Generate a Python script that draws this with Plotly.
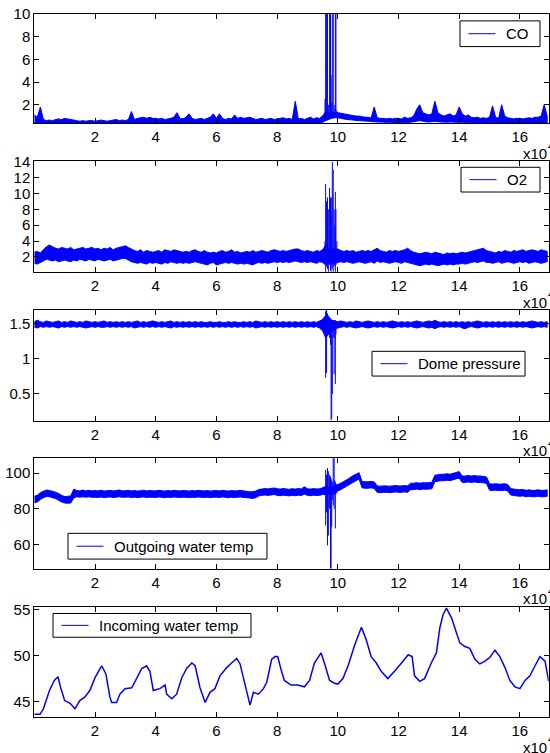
import plotly.graph_objects as go

# ---------------- data ----------------
T = list(range(0, 170000, 1000))          # sample positions of the envelope readings

co_lo = [0.40,0.38,0.37,0.38,0.37,0.38,0.38,0.37,0.38,0.38,
         0.38,0.37,0.38,0.38,0.37,0.36,0.37,0.38,0.37,0.37,
         0.37,0.38,0.37,0.36,0.37,0.38,0.37,0.38,0.37,0.38,
         0.38,0.38,0.39,0.38,0.39,0.40,0.39,0.38,0.39,0.40,
         0.39,0.38,0.39,0.40,0.39,0.38,0.39,0.40,0.39,0.38,
         0.39,0.40,0.39,0.38,0.39,0.38,0.39,0.38,0.39,0.40,
         0.39,0.40,0.39,0.38,0.39,0.38,0.39,0.40,0.39,0.38,
         0.39,0.38,0.39,0.38,0.39,0.38,0.38,0.39,0.38,0.39,
         0.38,0.39,0.38,0.39,0.38,0.38,0.40,0.39,0.38,0.39,
         0.38,0.39,0.40,0.39,0.40,0.45,0.60,0.70,0.80,0.85,
         0.85,0.80,0.75,0.70,0.68,0.65,0.62,0.60,0.58,0.56,
         0.55,0.52,0.50,0.48,0.47,0.46,0.45,0.45,0.44,0.43,
         0.42,0.42,0.43,0.44,0.45,0.50,0.55,0.60,0.55,0.50,
         0.48,0.50,0.52,0.50,0.48,0.47,0.46,0.48,0.47,0.45,
         0.46,0.45,0.44,0.43,0.42,0.41,0.40,0.40,0.39,0.40,
         0.40,0.41,0.40,0.39,0.40,0.39,0.38,0.38,0.39,0.38,
         0.38,0.37,0.38,0.38,0.37,0.38,0.38,0.39,0.40,0.40]
co_hi = [1.1,0.9,1.8,0.7,0.6,0.65,0.6,0.7,0.75,0.7,
         0.8,0.75,0.7,0.65,0.6,0.55,0.6,0.55,0.6,0.6,
         0.55,0.6,0.65,0.6,0.55,0.6,0.65,0.7,0.6,0.65,
         0.6,0.7,1.4,0.7,0.8,0.85,0.9,0.8,0.9,0.8,
         0.8,0.75,0.8,0.7,0.75,0.8,0.9,1.3,0.8,0.75,
         0.9,1.2,0.8,0.7,0.75,0.8,0.7,0.8,0.9,1.2,
         0.8,1.2,0.8,0.7,0.8,0.75,1.1,0.8,0.9,0.8,
         0.85,0.9,0.8,0.7,0.75,0.8,0.7,0.75,0.8,0.7,
         0.75,0.8,0.85,0.75,0.8,0.7,2.3,0.75,0.8,0.7,
         0.8,0.9,0.75,0.85,0.8,1.0,1.4,1.3,1.3,1.3,
         1.3,1.25,1.2,1.15,1.1,1.05,1.0,1.0,0.95,0.9,
         0.9,0.85,1.8,0.85,0.8,0.8,0.75,0.8,0.75,0.8,
         0.8,0.75,0.9,0.8,0.85,1.0,1.6,2.0,1.3,1.2,
         1.1,1.2,2.3,1.3,1.1,1.0,1.1,1.2,1.0,1.1,
         1.8,1.2,1.0,1.1,0.9,0.85,0.9,0.8,0.85,0.8,
         0.9,1.9,0.9,0.8,2.0,1.0,0.85,0.8,0.75,0.8,
         0.8,0.75,0.8,0.85,0.8,0.9,0.9,1.0,2.0,1.0]

o2_lo = [1.2,1.1,1.3,1.5,1.7,1.6,1.5,1.6,1.4,1.5,
         1.6,1.5,1.4,1.6,1.5,1.7,1.6,1.5,1.7,1.6,
         1.5,1.7,1.6,1.5,1.6,1.7,1.5,1.6,1.7,1.8,
         1.8,1.6,1.4,1.3,1.2,1.3,1.2,1.1,1.3,1.2,
         1.3,1.2,1.1,1.3,1.2,1.4,1.3,1.2,1.3,1.2,
         1.3,1.2,1.3,1.4,1.3,1.2,1.1,1.0,1.2,1.3,
         1.0,1.1,1.2,1.3,1.2,1.3,1.2,1.1,1.2,1.1,
         1.2,1.1,1.0,1.2,1.3,1.2,1.3,1.2,1.3,1.4,
         1.3,1.4,1.3,1.4,1.3,1.4,1.5,1.4,1.3,1.4,
         1.3,1.4,1.3,1.2,1.4,1.3,1.0,1.2,1.3,1.2,
         1.3,1.4,1.3,1.4,1.3,1.2,1.3,1.4,1.3,1.2,
         1.3,1.4,1.2,1.5,1.3,1.4,1.3,1.2,1.3,1.4,
         1.3,1.2,1.4,1.3,1.2,1.1,1.0,0.9,1.0,1.1,
         1.0,1.1,1.0,0.9,1.0,1.1,1.0,1.1,1.0,1.1,
         1.1,1.2,1.1,1.2,1.3,1.4,1.3,1.4,1.5,1.3,
         1.3,1.2,1.3,1.4,1.2,1.3,1.4,1.3,1.2,1.3,
         1.4,1.3,1.4,1.2,1.3,1.4,1.3,1.2,1.3,1.4]
o2_hi = [2.6,2.7,2.5,2.9,3.3,3.5,3.3,3.1,3.0,3.2,
         3.1,3.0,3.2,2.9,3.0,3.1,3.2,3.0,3.1,3.2,
         3.0,3.1,2.9,3.1,3.0,3.2,2.9,3.1,3.2,3.3,
         3.4,3.2,3.0,2.8,2.7,2.9,2.6,2.8,2.7,2.6,
         2.7,2.8,2.6,2.9,2.8,2.7,2.9,2.8,2.7,2.6,
         2.7,2.6,2.8,2.9,2.7,2.6,2.8,2.6,2.5,2.6,
         2.5,2.7,2.8,2.6,2.7,2.9,2.6,2.7,2.5,2.6,
         2.7,2.6,2.8,2.6,2.7,2.8,2.7,2.6,2.8,2.9,
         2.8,2.7,2.8,2.7,2.8,2.9,3.0,3.0,2.8,2.7,
         2.8,2.7,2.6,2.8,2.7,2.9,3.5,3.0,3.0,3.0,
         3.0,2.8,2.7,2.8,2.7,2.8,2.6,2.7,2.8,2.7,
         2.8,2.7,2.9,3.1,2.8,2.7,2.6,2.8,2.7,2.8,
         2.7,2.8,2.9,3.1,2.8,2.6,2.5,2.4,2.5,2.6,
         2.5,2.4,2.6,2.5,2.4,2.3,2.5,2.4,2.5,2.4,
         2.5,2.6,2.5,2.6,2.7,2.8,2.9,3.0,3.1,2.8,
         2.7,2.6,2.5,2.7,2.6,2.8,2.7,2.6,2.8,2.7,
         2.8,2.9,2.7,2.8,2.9,2.8,2.7,2.9,2.8,2.7]

dome_lo = [1.45,1.44,1.46,1.45,1.46,1.45,1.46,1.45,1.44,1.46,
           1.45,1.46,1.45,1.46,1.45,1.46,1.45,1.44,1.45,1.46,
           1.45,1.46,1.45,1.45,1.46,1.45,1.46,1.45,1.46,1.45,
           1.46,1.45,1.46,1.44,1.45,1.46,1.45,1.46,1.45,1.46,
           1.45,1.46,1.45,1.46,1.45,1.44,1.46,1.45,1.46,1.45,
           1.46,1.45,1.46,1.45,1.46,1.45,1.46,1.45,1.46,1.45,
           1.46,1.45,1.46,1.45,1.46,1.45,1.46,1.45,1.46,1.45,
           1.46,1.45,1.46,1.44,1.45,1.46,1.45,1.46,1.45,1.46,
           1.45,1.46,1.45,1.46,1.45,1.46,1.45,1.46,1.45,1.46,
           1.45,1.46,1.45,1.46,1.44,1.40,1.30,1.35,1.40,1.42,
           1.44,1.45,1.46,1.45,1.46,1.45,1.44,1.45,1.46,1.45,
           1.44,1.45,1.46,1.45,1.46,1.45,1.46,1.45,1.44,1.45,
           1.46,1.45,1.46,1.45,1.46,1.45,1.44,1.45,1.46,1.45,
           1.44,1.45,1.43,1.45,1.46,1.45,1.46,1.45,1.46,1.45,
           1.46,1.44,1.43,1.45,1.46,1.45,1.44,1.45,1.46,1.45,
           1.46,1.45,1.46,1.45,1.46,1.45,1.46,1.45,1.46,1.45,
           1.46,1.45,1.46,1.45,1.44,1.45,1.46,1.45,1.46,1.45]
dome_hi = [1.53,1.55,1.53,1.52,1.54,1.53,1.52,1.53,1.54,1.52,
           1.53,1.52,1.54,1.53,1.52,1.53,1.52,1.54,1.53,1.52,
           1.53,1.52,1.53,1.54,1.52,1.53,1.52,1.53,1.52,1.53,
           1.52,1.53,1.52,1.53,1.54,1.52,1.53,1.52,1.53,1.54,
           1.53,1.52,1.53,1.52,1.53,1.54,1.52,1.53,1.52,1.53,
           1.52,1.53,1.52,1.53,1.52,1.53,1.52,1.52,1.53,1.52,
           1.52,1.53,1.52,1.52,1.53,1.52,1.53,1.52,1.52,1.53,
           1.52,1.53,1.52,1.54,1.53,1.52,1.53,1.52,1.53,1.52,
           1.53,1.52,1.53,1.52,1.53,1.52,1.53,1.52,1.53,1.52,
           1.53,1.52,1.53,1.52,1.54,1.56,1.62,1.58,1.55,1.54,
           1.53,1.54,1.53,1.52,1.53,1.52,1.54,1.53,1.52,1.53,
           1.54,1.53,1.52,1.53,1.52,1.53,1.52,1.53,1.54,1.53,
           1.52,1.53,1.52,1.53,1.52,1.53,1.54,1.53,1.52,1.53,
           1.54,1.53,1.55,1.53,1.52,1.53,1.52,1.53,1.52,1.53,
           1.52,1.53,1.52,1.53,1.52,1.53,1.54,1.53,1.52,1.53,
           1.52,1.53,1.52,1.53,1.52,1.53,1.52,1.53,1.52,1.53,
           1.52,1.53,1.52,1.53,1.54,1.53,1.52,1.53,1.52,1.53]

out_lo = [83.3,83.8,85.2,86.2,86.8,86.7,86.2,85.7,84.7,83.8,
          83.2,83.1,83.2,86.0,86.7,86.5,86.7,86.5,86.7,86.4,
          86.5,86.3,86.6,86.2,86.5,86.6,86.3,86.5,86.7,86.4,
          86.5,86.6,86.3,86.5,86.2,86.5,86.6,86.3,86.5,86.4,
          86.3,86.6,86.4,86.2,86.5,86.3,86.6,86.4,86.3,86.5,
          86.4,86.2,86.5,86.3,86.6,86.4,86.3,86.5,86.2,86.4,
          86.5,86.3,86.6,86.4,86.2,86.5,86.3,86.4,86.6,86.3,
          86.2,86.0,85.8,86.2,87.2,87.5,87.7,87.5,87.7,88.0,
          87.5,87.3,87.6,87.4,87.2,87.5,87.3,87.6,87.4,88.2,
          87.5,87.3,87.6,87.4,87.5,88.0,88.0,88.0,88.0,88.5,
          90.0,90.7,91.7,92.7,93.7,94.7,95.7,96.7,91.7,91.5,
          91.5,91.7,91.4,89.2,89.0,89.2,89.2,89.0,89.2,89.4,
          89.2,89.2,89.4,89.2,90.7,90.7,91.0,90.7,91.0,90.9,
          91.0,91.2,95.2,95.4,95.7,95.7,96.0,95.7,96.2,96.7,
          97.2,94.7,94.7,95.0,94.7,95.0,94.7,94.7,94.5,94.2,
          90.4,90.2,90.4,90.2,90.2,90.4,90.0,87.7,87.4,87.2,
          87.0,87.2,86.7,87.0,86.7,86.7,87.0,86.7,86.7,87.0]
out_hi = [87.0,87.5,89.0,89.8,90.5,90.2,89.8,89.3,88.5,87.5,
          86.8,87.0,87.2,91.0,90.2,90.0,90.5,90.0,90.3,90.0,
          90.2,90.0,90.4,89.9,90.1,90.3,90.0,90.2,90.5,90.0,
          90.1,90.3,90.0,90.2,89.9,90.1,90.4,90.0,90.2,90.1,
          90.0,90.3,90.1,89.9,90.2,90.0,90.3,90.1,90.0,90.2,
          90.1,89.9,90.2,90.0,90.3,90.1,90.0,90.2,89.9,90.1,
          90.2,90.0,90.3,90.1,89.9,90.2,90.0,90.1,90.3,90.0,
          89.8,89.5,89.6,89.9,90.8,91.0,91.3,91.1,91.4,91.6,
          91.2,91.0,91.3,91.1,90.9,91.2,91.0,91.3,91.1,92.3,
          91.2,91.0,91.3,91.1,91.2,91.8,92.5,92.0,92.0,93.0,
          93.6,94.3,95.3,96.3,97.3,98.5,99.3,100.2,95.3,95.1,
          95.1,95.3,95.0,92.8,92.6,92.8,92.8,92.6,92.8,93.0,
          92.8,92.8,93.0,92.8,94.3,94.3,94.6,94.3,94.6,94.5,
          94.6,94.8,98.8,99.0,99.3,99.3,99.6,99.3,99.8,100.3,
          100.8,98.3,98.3,98.6,98.3,98.6,98.3,98.3,98.1,97.8,
          94.0,93.8,94.0,93.8,93.8,94.0,93.6,91.3,91.0,90.8,
          90.6,90.8,90.3,90.6,90.3,90.3,90.6,90.3,90.3,90.6]

# the disturbance around x = 9.6e4 .. 9.97e4
spk_x   = [95800, 96000, 96300, 96600, 96900, 97300, 97600, 97800,
           98000, 98200, 98500, 98800, 99000, 99200, 99400, 99700]
co_spk_lo = [0.6, 0.6, 0.7, 0.7, 0.8, 0.8, 0.8, 0.9, 0.9, 0.9, 0.9, 0.9, 0.9, 0.9, 0.85, 0.9]
co_spk_hi = [2.5, 12, 12, 12, 2.0, 12, 12, 4.6, 2.2, 12, 12, 2.0, 1.6, 12, 12, 1.5]
o2_spk_lo = [1.2, 0.1, 0.8, 0.5, 0.1, 1.0, 0.3, 0.1, 1.0, 0.5, 0.1, 0.8, 1.0, 0.1, 1.0, 1.2]
o2_spk_hi = [4.0, 11.2, 9.0, 9.5, 8.0, 10.7, 9.5, 7.0, 9.5, 14.0, 13.0, 8.0, 6.0, 10.2, 8.0, 4.0]
dome_spk_lo = [1.40, 0.73, 0.80, 1.35, 1.35, 1.30, 1.20, 0.12, 0.15, 0.50, 1.30, 0.78, 1.30, 0.64, 1.35, 1.45]
dome_spk_hi = [1.56, 1.68, 1.70, 1.65, 1.62, 1.60, 1.58, 1.55, 1.56, 1.55, 1.55, 1.55, 1.55, 1.55, 1.54, 1.53]
out_spk_lo = [88, 70.6, 78, 59.5, 65, 80, 46.5, 46.5, 70, 85, 82, 80, 88, 69, 88, 89]
out_spk_hi = [92, 101.8, 99, 102.8, 101, 99, 98, 97, 96, 95, 108.5, 108.5, 96, 95, 94, 93]

inc_x = [0, 1900, 3000, 5000, 6600, 7800, 8700, 10000, 11800, 13400, 15000, 16700, 18300,
         20000, 22200, 23600, 24900, 25500, 27100, 28200, 29900, 32100, 33700, 35400, 37000,
         38100, 39200, 40300, 41400, 43100, 43600, 45300, 46900, 48600, 50200, 51900, 53000,
         54600, 56300, 57900, 59500, 61200, 63400, 65000, 66700, 67800, 69400, 71100, 72200,
         73800, 75500, 76600, 78200, 79300, 80200, 81300, 82400, 84600, 86800, 89000, 90700,
         92300, 94500, 95600, 97300, 98900, 100000, 101700, 103400, 105600, 107800, 109400,
         111000, 112700, 114300, 116500, 118700, 121000, 123200, 124500, 125300, 127000,
         128600, 130800, 132500, 133600, 134700, 135800, 137500, 139100, 140200, 141900,
         143500, 145200, 146800, 148500, 150100, 151800, 153400, 155100, 156700, 158400,
         160000, 161700, 163300, 165000, 166600, 168300, 169500]
inc_y = [43.6, 43.6, 44.2, 46.2, 47.3, 47.7, 46.5, 45.1, 44.8, 44.2, 45.1, 45.5, 46.2,
         47.6, 48.9, 48.0, 45.5, 44.9, 44.9, 45.8, 46.4, 46.5, 47.5, 48.6, 48.9,
         48.3, 46.2, 46.3, 46.4, 46.8, 45.8, 45.3, 45.8, 47.6, 48.6, 49.2, 48.9,
         46.5, 44.9, 46.0, 46.4, 47.8, 48.7, 49.2, 49.7, 49.1, 46.9, 44.6, 46.0,
         45.8, 46.4, 47.1, 49.6, 49.9, 49.9, 48.5, 47.3, 46.8, 46.8, 46.6, 47.3,
         49.2, 50.3, 49.2, 47.3, 47.0, 46.9, 47.5, 48.9, 51.2, 53.1, 51.7,
         49.9, 49.2, 48.3, 47.5, 48.3, 49.2, 50.1, 49.9, 47.8, 47.2,
         47.5, 49.2, 50.3, 53.0, 54.5, 55.2, 54.1, 52.5, 51.4, 51.0,
         50.8, 49.6, 49.1, 49.4, 49.8, 50.6, 49.9, 48.7, 47.3, 46.6,
         46.4, 47.3, 47.8, 48.9, 49.9, 49.4, 47.2]

names = ["CO", "O2", "Dome pressure", "Outgoing water temp", "Incoming water temp"]
x_tickvals = [20000, 40000, 60000, 80000, 100000, 120000, 140000, 160000]
x_ticktext = ["2", "4", "6", "8", "10", "12", "14", "16"]
y_ticks = [[2, 4, 6, 8, 10], [2, 4, 6, 8, 10, 12, 14], [0.5, 1, 1.5], [60, 80, 100], [45, 50, 55]]
y_ticktext = [["2", "4", "6", "8", "10"], ["2", "4", "6", "8", "10", "12", "14"],
              ["0.5", "1", "1.5"], ["60", "80", "100"], ["45", "50", "55"]]
y_ranges = [[0.35, 10], [0.12, 14.05], [0.12, 1.7], [46.5, 108.3], [43.3, 55.36]]
X_RANGE = [0, 169500]

# ---------------- layout geometry (pixels) ----------------
W, H = 550, 753
LEFT, RIGHT = 34.3, 548.7
tops = [6, 155, 305, 455, 605]
bottoms = [116.7, 266.7, 417, 566.7, 716.7]
# legend boxes: (left, top, right, bottom) in pixels
legend_boxes = [(460, 13, 540, 39), (461, 161, 540, 186), (372, 347, 525, 372),
                (68, 531, 267, 557), (53, 612, 251, 636)]
BLUE = "#0000ff"
FONT = "Liberation Sans, Arial, Helvetica, sans-serif"


def px(xp):
    return xp / W


def py(yp):
    return 1 - yp / H


def spikes(xs, lo, hi):
    # one separate vertical stroke per reading (None breaks the line)
    X, Y = [], []
    for x, a, b in zip(xs, lo, hi):
        X += [x, x, None]
        Y += [a, b, None]
    return X, Y


fig = go.Figure()

bands = [(co_lo, co_hi, co_spk_lo, co_spk_hi),
         (o2_lo, o2_hi, o2_spk_lo, o2_spk_hi),
         (dome_lo, dome_hi, dome_spk_lo, dome_spk_hi),
         (out_lo, out_hi, out_spk_lo, out_spk_hi)]

for k in range(5):
    xa = "x" if k == 0 else f"x{k+1}"
    ya = "y" if k == 0 else f"y{k+1}"
    if k < 4:
        lo, hi, slo, shi = bands[k]
        # noisy band: upper readings left->right, lower readings back
        fig.add_trace(go.Scatter(x=T + T[::-1], y=hi + lo[::-1], mode="lines",
                                 fill="toself", fillcolor=BLUE, name=names[k],
                                 line=dict(color=BLUE, width=1, simplify=False),
                                 xaxis=xa, yaxis=ya, hoverinfo="skip", showlegend=False))
        SX, SY = spikes(spk_x, slo, shi)
        fig.add_trace(go.Scatter(x=SX, y=SY, mode="lines", name=names[k],
                                 connectgaps=False,
                                 line=dict(color=BLUE, width=1, simplify=False),
                                 xaxis=xa, yaxis=ya, hoverinfo="skip", showlegend=False))
    else:
        fig.add_trace(go.Scatter(x=inc_x, y=inc_y, mode="lines", name=names[k],
                                 line=dict(color=BLUE, width=1.5, simplify=False),
                                 xaxis=xa, yaxis=ya, hoverinfo="skip", showlegend=False))

layout = dict(width=W, height=H, margin=dict(l=0, r=0, t=0, b=0, pad=0),
              paper_bgcolor="white", plot_bgcolor="white",
              font=dict(family=FONT, size=15, color="black"),
              showlegend=False)

axis_common = dict(ticks="inside", ticklen=5, tickcolor="black", tickwidth=1,
                   showline=True, linecolor="black", linewidth=1, mirror="ticks",
                   showgrid=False, zeroline=False,
                   tickfont=dict(family=FONT, size=15, color="black"))

annotations, shapes = [], []
for k in range(5):
    sx = "xaxis" if k == 0 else f"xaxis{k+1}"
    sy = "yaxis" if k == 0 else f"yaxis{k+1}"
    layout[sx] = dict(axis_common, domain=[px(LEFT), px(RIGHT)], range=X_RANGE,
                      tickmode="array", tickvals=x_tickvals, ticktext=x_ticktext,
                      anchor="y" if k == 0 else f"y{k+1}")
    layout[sy] = dict(axis_common, domain=[py(bottoms[k]), py(tops[k])], range=y_ranges[k],
                      tickmode="array", tickvals=y_ticks[k], ticktext=y_ticktext[k],
                      anchor="x" if k == 0 else f"x{k+1}")
    # x10^4 exponent label
    annotations.append(dict(text="x10", xref="paper", yref="paper",
                            x=px(520.5), y=py(bottoms[k] + 30.5),
                            xanchor="left", yanchor="middle", showarrow=False,
                            font=dict(family=FONT, size=15, color="black")))
    annotations.append(dict(text="4", xref="paper", yref="paper",
                            x=px(545.5), y=py(bottoms[k] + 22.5),
                            xanchor="left", yanchor="middle", showarrow=False,
                            font=dict(family=FONT, size=11, color="black")))
    # legend box for this panel
    l, t, r, b = legend_boxes[k]
    cy = (t + b) / 2
    shapes.append(dict(type="rect", xref="paper", yref="paper",
                       x0=px(l), x1=px(r), y0=py(b), y1=py(t),
                       fillcolor="white", line=dict(color="black", width=1), layer="above"))
    shapes.append(dict(type="line", xref="paper", yref="paper",
                       x0=px(l + 8.5), x1=px(l + 35.5), y0=py(cy), y1=py(cy),
                       line=dict(color=BLUE, width=1), layer="above"))
    annotations.append(dict(text=names[k], xref="paper", yref="paper",
                            x=px(l + 43.5), y=py(cy), xanchor="left", yanchor="middle",
                            showarrow=False,
                            font=dict(family=FONT, size=15, color="black")))

layout["annotations"] = annotations
layout["shapes"] = shapes

fig.update_layout(**layout)
fig.write_html(
    "out.html",
    config={"displayModeBar": False},
    post_script=("document.body.style.margin='0';"
                 "document.body.style.overflow='hidden';"
                 "var d=document.getElementById('{plot_id}');"
                 "d.style.position='absolute';d.style.left='0px';d.style.top='0px';"),
)
